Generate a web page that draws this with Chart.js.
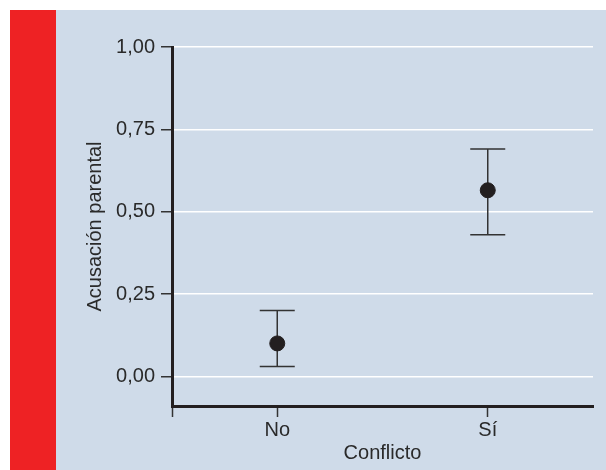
<!DOCTYPE html>
<html>
<head>
<meta charset="utf-8">
<script src="https://cdn.jsdelivr.net/npm/chart.js@4"></script>
<style>
html,body{margin:0;padding:0;background:#ffffff;}
#wrap{position:relative;width:606px;height:470px;}
canvas{display:block;}
</style>
</head>
<body>
<div id="wrap"><canvas id="c" width="606" height="470"></canvas></div>
<script>
const categories = ['No', 'Sí'];
const means = [0.10, 0.565];
const lower = [0.03, 0.43];
const upper = [0.20, 0.69];
const yTicks = [0, 0.25, 0.5, 0.75, 1];
const yTitle = 'Acusación parental';
const xTitle = 'Conflicto';

const FONT = '"Liberation Sans", Arial, sans-serif';
const DARK = '#231f20';
const TEXT = '#2a2a2a';

const points = means.map((m, i) => ({x: 2 * i + 1, y: m}));

const bgPlugin = {
  id: 'bg',
  beforeDraw(chart) {
    const ctx = chart.ctx;
    ctx.save();
    ctx.fillStyle = '#ffffff';
    ctx.fillRect(0, 0, chart.width, chart.height);
    ctx.fillStyle = '#cfdbe9';
    ctx.fillRect(56, 10, chart.width - 56, chart.height - 10);
    ctx.fillStyle = '#ee2224';
    ctx.fillRect(10, 10, 46, chart.height - 10);
    ctx.restore();
  }
};

const errPlugin = {
  id: 'err',
  beforeDatasetsDraw(chart) {
    const ctx = chart.ctx;
    const xs = chart.scales.x, ys = chart.scales.y;
    ctx.save();
    ctx.strokeStyle = '#333333';
    ctx.lineWidth = 1.5;
    points.forEach((p, i) => {
      const px = xs.getPixelForValue(p.x);
      const top = ys.getPixelForValue(upper[i]);
      const bot = ys.getPixelForValue(lower[i]);
      const hw = 17.5;
      ctx.beginPath();
      ctx.moveTo(px, top); ctx.lineTo(px, bot);
      ctx.moveTo(px - hw, top); ctx.lineTo(px + hw, top);
      ctx.moveTo(px - hw, bot); ctx.lineTo(px + hw, bot);
      ctx.stroke();
    });
    ctx.restore();
  }
};

new Chart(document.getElementById('c'), {
  type: 'scatter',
  data: {
    datasets: [{
      data: points,
      backgroundColor: DARK,
      borderColor: DARK,
      pointRadius: 7.5,
      pointHoverRadius: 7.5
    }]
  },
  plugins: [bgPlugin, errPlugin],
  options: {
    responsive: false,
    animation: false,
    events: [],
    plugins: {legend: {display: false}, tooltip: {enabled: false}},
    layout: {padding: {top: 47, right: 13, left: 0, bottom: 0}},
    scales: {
      x: {
        type: 'linear',
        min: 0, max: 4,
        afterBuildTicks(scale) { scale.ticks = [{value: 0}, {value: 1}, {value: 3}]; },
        afterFit(scale) { scale.height = 64; },
        ticks: {
          autoSkip: false,
          maxRotation: 0,
          padding: 1,
          color: TEXT,
          font: {family: FONT, size: 20},
          callback: (v) => v === 1 ? categories[0] : (v === 3 ? categories[1] : '')
        },
        grid: {drawOnChartArea: false, drawTicks: true, tickLength: 11, tickColor: '#333333', tickWidth: 1.5},
        border: {display: true, color: DARK, width: 3},
        title: {display: true, text: xTitle, color: TEXT, font: {family: FONT, size: 20}, padding: {top: 0, bottom: 5}}
      },
      y: {
        min: -0.09, max: 1,
        afterBuildTicks(scale) { scale.ticks = yTicks.map(v => ({value: v})); },
        afterFit(scale) { scale.width = 172; },
        ticks: {
          padding: 6,
          color: TEXT,
          font: {family: FONT, size: 20},
          callback: (v) => v.toFixed(2).replace('.', ',')
        },
        grid: {color: '#ffffff', lineWidth: 1.5, tickColor: '#333333', tickWidth: 1.5, tickLength: 11},
        border: {display: true, color: DARK, width: 3},
        title: {display: true, text: yTitle, color: TEXT, font: {family: FONT, size: 20}, padding: {top: 83, bottom: 0}}
      }
    }
  }
});
</script>
</body>
</html>
